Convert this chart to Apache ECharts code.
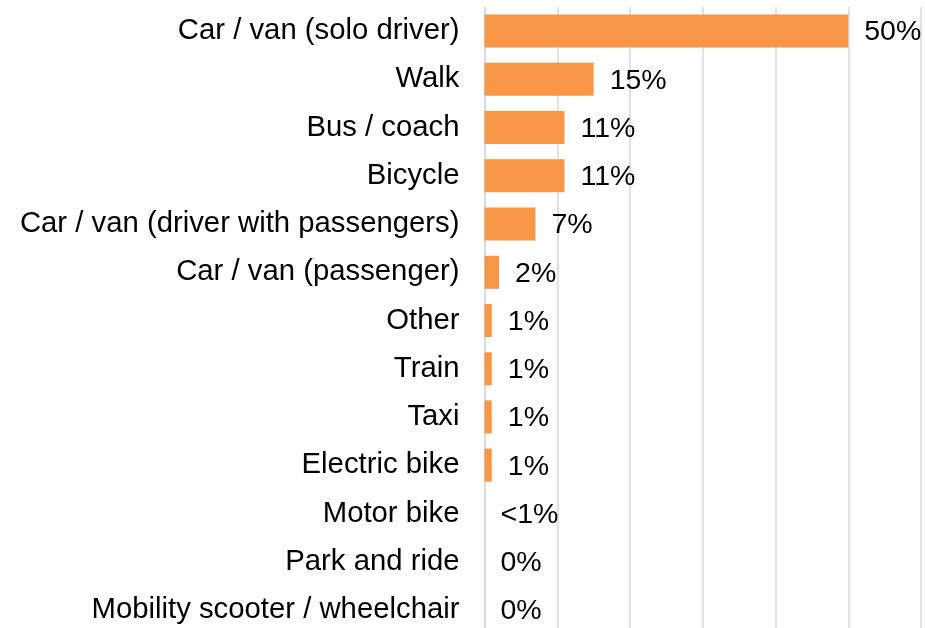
<!DOCTYPE html>
<html>
<head>
<meta charset="utf-8">
<script src="https://cdn.jsdelivr.net/npm/echarts@6/dist/echarts.min.js"></script>
<style>html,body{margin:0;padding:0;background:#fff;overflow:hidden}#c{width:925px;height:640px}</style>
</head>
<body>
<div id="c"></div>
<script>
var categories = ["Car / van (solo driver)", "Walk", "Bus / coach", "Bicycle", "Car / van (driver with passengers)", "Car / van (passenger)", "Other", "Train", "Taxi", "Electric bike", "Motor bike", "Park and ride", "Mobility scooter / wheelchair"];
var values = [50, 15, 11, 11, 7, 2, 1, 1, 1, 1, 0, 0, 0];
var valueLabels = ["50%", "15%", "11%", "11%", "7%", "2%", "1%", "1%", "1%", "1%", "<1%", "0%", "0%"];
var xTicks = [0, 10, 20, 30, 40, 50, 60];

var chart = echarts.init(document.getElementById('c'), null, {renderer: 'canvas'});
chart.setOption({
  animation: false,
  textStyle: {fontFamily: 'Liberation Sans, Arial, sans-serif'},
  grid: {left: 484.5, right: 4, top: 7, height: 627, containLabel: false},
  xAxis: {
    type: 'value', min: xTicks[0], max: xTicks[xTicks.length - 1], interval: 10,
    axisLabel: {show: false}, axisLine: {show: false}, axisTick: {show: false},
    splitLine: {show: true, lineStyle: {color: '#D9D9D9', width: 1.5}}
  },
  yAxis: {
    type: 'category', data: categories, inverse: true,
    axisLine: {show: true, lineStyle: {color: '#D9D9D9', width: 1.5}},
    axisTick: {show: false},
    axisLabel: {margin: 25, color: '#000', fontSize: 29.3, fontFamily: 'Liberation Sans, Arial, sans-serif'}
  },
  series: [{
    type: 'bar', data: values, barWidth: 33,
    itemStyle: {color: '#F79646'},
    label: {
      show: true, position: 'right', distance: 16, offset: [0, 1.5], color: '#000', fontSize: 28.5,
      fontFamily: 'Liberation Sans, Arial, sans-serif',
      formatter: function (p) { return valueLabels[p.dataIndex]; }
    }
  }]
});
</script>
</body>
</html>
